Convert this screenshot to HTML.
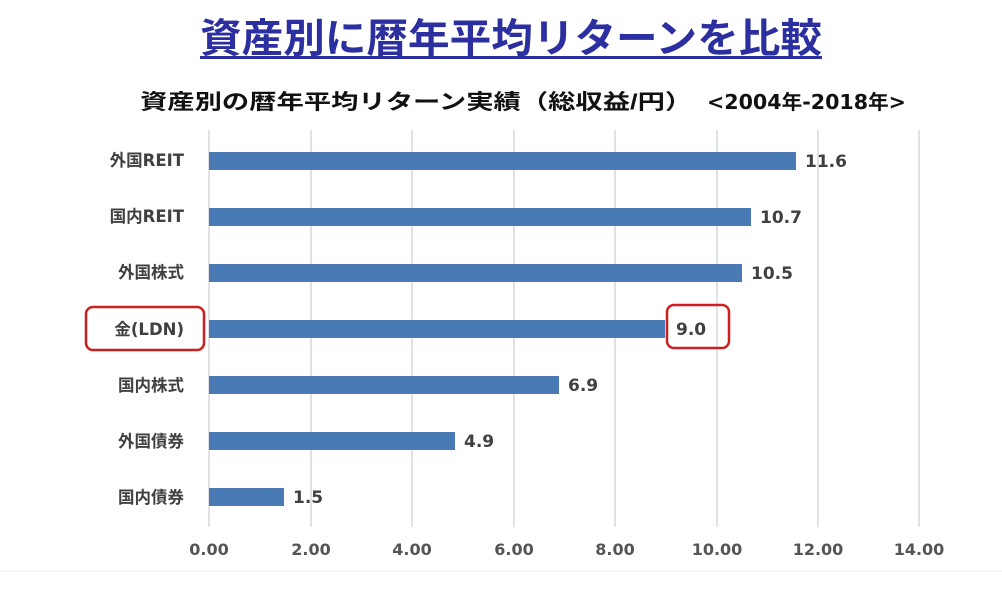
<!DOCTYPE html>
<html><head><meta charset="utf-8"><style>
html,body{margin:0;padding:0;background:#fff;}
body{width:1002px;height:600px;position:relative;overflow:hidden;font-family:"Liberation Sans","Noto Sans CJK JP",sans-serif;}
.t{position:absolute;left:10px;width:1002px;text-align:center;top:6px;font-size:40px;font-weight:bold;color:#2b2fa0;}
.t span{display:inline-block;transform:scaleX(1.04);text-decoration:underline;text-decoration-thickness:3px;text-underline-offset:4px;}
.s{position:absolute;top:86px;font-size:21px;font-weight:bold;color:#111;white-space:nowrap;transform-origin:left top;}
</style></head><body>
<div class="t"><span>資産別に暦年平均リターンを比較</span></div>
<div class="s" style="left:140px;transform:scaleX(1.3)">資産別の暦年平均リターン実績（総収益/円）</div>
<div class="s" style="left:707px;font-family:'DejaVu Sans','Noto Sans CJK JP',sans-serif;font-size:20px;transform:scaleX(1.03)">&lt;2004年-2018年&gt;</div>
<svg width="1002" height="600" style="position:absolute;left:0;top:0" font-family="DejaVu Sans, Noto Sans CJK JP, sans-serif">
<g stroke="#d9d9d9" stroke-width="1.5">
<line x1="209" y1="130" x2="209" y2="527"/><line x1="311" y1="130" x2="311" y2="527"/><line x1="412" y1="130" x2="412" y2="527"/><line x1="514" y1="130" x2="514" y2="527"/><line x1="615" y1="130" x2="615" y2="527"/><line x1="717" y1="130" x2="717" y2="527"/><line x1="818" y1="130" x2="818" y2="527"/><line x1="919" y1="130" x2="919" y2="527"/>
</g>
<g fill="#4a7ab5">
<rect x="209" y="152" width="587" height="18"/>
<rect x="209" y="208" width="542" height="18"/>
<rect x="209" y="264" width="533" height="18"/>
<rect x="209" y="320" width="456" height="18"/>
<rect x="209" y="376" width="350" height="18"/>
<rect x="209" y="432" width="246" height="18"/>
<rect x="209" y="488" width="75" height="18"/>
</g>
<g font-size="17" font-weight="bold" fill="#404040">
<text x="805" y="167">11.6</text>
<text x="760" y="223">10.7</text>
<text x="751" y="279">10.5</text>
<text x="676" y="335">9.0</text>
<text x="568" y="391">6.9</text>
<text x="464" y="447">4.9</text>
<text x="293" y="503">1.5</text>
</g>
<g font-size="16.5" font-weight="bold" fill="#404040" text-anchor="end">
<text x="184" y="166">外国REIT</text>
<text x="184" y="222">国内REIT</text>
<text x="184" y="278">外国株式</text>
<text x="184" y="335">金(LDN)</text>
<text x="184" y="391">国内株式</text>
<text x="184" y="447">外国債券</text>
<text x="184" y="503">国内債券</text>
</g>
<g font-size="16" font-weight="bold" fill="#555" text-anchor="middle">
<text x="209" y="555">0.00</text><text x="311" y="555">2.00</text><text x="412" y="555">4.00</text><text x="514" y="555">6.00</text><text x="615" y="555">8.00</text><text x="717" y="555">10.00</text><text x="818" y="555">12.00</text><text x="919" y="555">14.00</text>
</g>
<rect x="86" y="307" width="118" height="43" rx="7" fill="none" stroke="#cc1f1f" stroke-width="2.5"/>
<rect x="667" y="305" width="62" height="43" rx="7" fill="none" stroke="#cc1f1f" stroke-width="2.5"/>
<line x1="0" y1="571" x2="1002" y2="571" stroke="#eee" stroke-width="1"/>
</svg>
</body></html>
